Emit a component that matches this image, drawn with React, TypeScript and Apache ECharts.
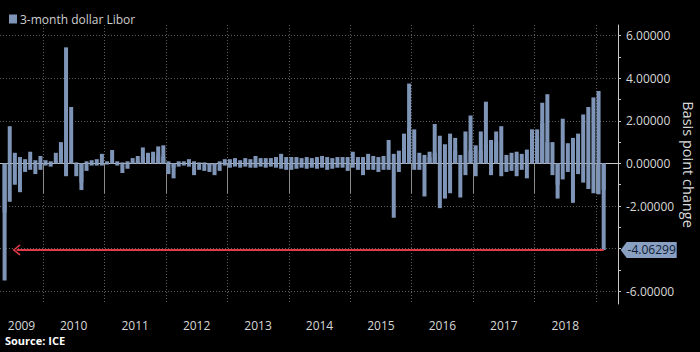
import React, { useEffect, useRef } from "react";
import * as echarts from "echarts";

const seriesName = "3-month dollar Libor";
const axisName = "Basis point change";
const sourceText = "Source: ICE";

const yearBoundaries = [2010, 2011, 2012, 2013, 2014, 2015, 2016, 2017, 2018, 2019];
const yearLabelPositions = [2009.65, 2010.5, 2011.5, 2012.5, 2013.5, 2014.5, 2015.5, 2016.5, 2017.5, 2018.5];
const yTickValues = [-6, -5, -4, -3, -2, -1, 0, 1, 2, 3, 4, 5, 6];
const yLabelValues = [-6, -4, -2, 0, 2, 4, 6];

// Daily change extremes, two per month (bp)
const y2009 = [-2.3, -5.5, 1.75, -1.8, 0.5, -1.0, 0.3, -1.35, 0.2, -0.4, 0.55, -0.3, 0.15, -0.5, 0.35, -0.3]; // May-Dec
const y2010 = [0.15, -0.1, 0.1, -0.15, 0.1, 0.5, 0.7, 1.0, 5.45, -0.6, 2.65, 0.1, 0.05, -0.6, -0.9, -1.25, 0.1, -0.35, 0.15, -0.1, 0.2, -0.1, 0.45, -0.1];
const y2011 = [0.1, -0.05, 0.63, 0.05, 0.1, -0.1, 0.05, -0.45, 0.1, -0.25, 0.25, 0.05, 0.35, 0.1, 0.75, 0.3, 0.5, 0.3, 0.55, 0.3, 0.8, 0.4, 0.85, 0.3];
const y2012 = [0.1, -0.5, -0.2, -0.7, 0.1, -0.15, 0.1, -0.1, 0.2, -0.15, 0.1, -0.55, 0.05, -0.3, 0.05, -0.35, -0.1, -0.4, -0.1, -0.55, 0.1, -0.35, 0.2, -0.1];
const y2013 = [0.2, -0.2, 0.25, -0.15, 0.15, -0.2, 0.25, -0.15, 0.2, -0.2, 0.35, -0.2, 0.25, -0.15, 0.25, -0.2, 0.25, -0.15, 0.3, -0.2, 0.45, -0.25, 0.3, -0.3];
const y2014 = [0.3, -0.3, 0.3, -0.25, 0.25, -0.2, 0.3, -0.25, 0.25, -0.2, 0.3, -0.25, 0.35, -0.2, 0.3, -0.3, 0.25, -0.25, 0.3, -0.2, 0.3, -0.2, 0.3, -0.35];
const y2015 = [0.55, -0.2, 0.3, -0.3, 0.3, -0.55, 0.45, -0.3, 0.35, -0.3, 0.3, -0.4, 0.35, -0.3, 1.1, -0.3, 0.45, -2.55, 0.6, -0.4, 1.0, 1.4, 1.65, 3.75];
const y2016 = [1.6, -0.3, 0.5, -0.3, 0.4, -1.55, 0.55, 0.3, 0.5, 1.85, 1.3, -2.1, -1.65, 0.9, 1.4, -1.4, 1.2, 0.6, -1.6, 0.4, -0.55, 1.5, 0.6, 2.25];
const y2017 = [0.85, -0.6, 0.6, 1.5, 2.9, 0.9, 1.1, -0.55, 1.0, 1.5, -0.6, 1.75, 0.4, -0.4, 0.5, -0.35, -0.6, 0.55, 0.45, -0.3, -0.7, 0.65, 1.4, 1.6];
const y2018 = [1.6, 1.2, 1.9, 2.85, 3.25, 1.0, -0.55, 1.0, -1.65, -1.0, 2.1, -0.75, 0.95, -0.4, -1.85, 1.2, -0.5, 1.4, 2.3, -0.9, 2.65, -1.2, 3.1, -1.4];
const y2019 = [3.4, -1.45, -1.25, -4.06299]; // Jan-Feb

const yearly: [number, number, number[]][] = [
  [2009, 8, y2009],
  [2010, 0, y2010],
  [2011, 0, y2011],
  [2012, 0, y2012],
  [2013, 0, y2013],
  [2014, 0, y2014],
  [2015, 0, y2015],
  [2016, 0, y2016],
  [2017, 0, y2017],
  [2018, 0, y2018],
  [2019, 0, y2019],
];

const xMin = 2009.3;
const xMax = 2019.358;
const arrowStart = 2009.57;

export default function App() {
  const ref = useRef<HTMLDivElement>(null);
  useEffect(() => {
    if (!ref.current) return;
    const chart = echarts.init(ref.current, undefined, { renderer: "svg" });
    const first: [number, number][] = [];
    const second: [number, number][] = [];
    yearly.forEach(([yr, off, arr]) => {
      arr.forEach((v, i) => {
        const m = Math.floor(i / 2);
        const x = yr + (off + 2 * m + 1) / 24;
        (i % 2 === 0 ? first : second).push([x, v]);
      });
    });
    const last = second[second.length - 1];
    const lastV = last[1];
    const font = "Open Sans";
    const barColor = "#7f95b8";
    chart.setOption({
      animation: false,
      backgroundColor: "#000",
      textStyle: { fontFamily: font },
      legend: {
        show: true,
        left: 4,
        top: 8,
        icon: "rect",
        itemWidth: 8,
        itemHeight: 9,
        data: [seriesName],
        textStyle: { color: "#cfcfcf", fontSize: 12, fontFamily: font, padding: [0, 0, 0, -2] },
      },
      grid: { left: 0, right: 82, top: 25, bottom: 48, outerBoundsMode: "none" },
      xAxis: {
        type: "value",
        min: xMin,
        max: xMax,
        axisLine: { show: true, lineStyle: { color: "#c8c8c8", width: 1 } },
        axisTick: { show: true, customValues: yearBoundaries, length: 30, lineStyle: { color: "#8a8a8a" } },
        axisLabel: {
          customValues: yearLabelPositions,
          formatter: (v: number) => String(Math.floor(v)),
          color: "#d8d8d8",
          fontSize: 12,
          margin: 15,
          fontFamily: font,
        },
        splitLine: { show: true, lineStyle: { color: "#5e5e5e", type: [1, 2] } },
      },
      yAxis: [
        {
          type: "value",
          position: "right",
          min: -6.6,
          max: 6.5,
          axisLine: { show: true, lineStyle: { color: "#c8c8c8" } },
          axisTick: { show: true, customValues: yTickValues, length: 3, lineStyle: { color: "#c8c8c8" } },
          axisLabel: {
            customValues: yLabelValues,
            formatter: (v: number) => v.toFixed(5),
            color: "#d8d8d8",
            fontSize: 12,
            margin: 8,
            fontFamily: font,
          },
          splitLine: { show: false },
          name: axisName,
          nameLocation: "middle",
          nameRotate: -90,
          nameGap: 63,
          nameMoveOverlap: false,
          nameTextStyle: { color: "#d8d8d8", fontSize: 14.5, fontFamily: font },
        },
        {
          type: "value",
          position: "right",
          min: -6.6,
          max: 6.5,
          axisLine: { show: false },
          axisTick: { show: false, customValues: yLabelValues },
          axisLabel: { show: false },
          splitLine: { show: true, lineStyle: { color: "#5e5e5e", type: [1, 2] } },
        },
      ],
      series: [
        {
          name: seriesName,
          type: "bar",
          data: first,
          barWidth: 4,
          barGap: "-100%",
          itemStyle: { color: barColor },
          silent: true,
        },
        {
          name: seriesName,
          type: "bar",
          data: second,
          barWidth: 4,
          barGap: "-100%",
          itemStyle: { color: barColor },
          silent: true,
          markLine: {
            silent: true,
            symbol: ["path://M5,0 L10,6.5 L9,7.6 L5,2.2 L1,7.6 L0,6.5 Z", "none"],
            symbolSize: [11, 8],
            lineStyle: { color: "#e23a48", width: 2, type: "solid" },
            label: { show: false },
            data: [[{ coord: [arrowStart, lastV] }, { coord: [last[0], lastV] }]],
          },
          markPoint: {
            silent: true,
            data: [
              {
                coord: [xMax - 0.005, lastV],
                symbol: "path://M0,8 L6,0 L56,0 L56,16 L6,16 Z",
                symbolSize: [56, 16],
                symbolOffset: [31, 0],
                itemStyle: { color: "#8aa0c2" },
                label: {
                  show: true,
                  position: "inside",
                  formatter: lastV.toFixed(5),
                  color: "#0d1b33",
                  fontSize: 12,
                  fontFamily: font,
                  offset: [3, 0],
                },
              },
            ],
          },
        },
      ],
      graphic: [
        {
          type: "text",
          left: 5,
          top: 335,
          style: { text: sourceText, fill: "#ffffff", font: `bold 11px "${font}"` },
        },
      ],
    });
    return () => chart.dispose();
  }, []);
  return <div ref={ref} style={{ width: 700, height: 352, position: "absolute", left: 0, top: 0 }} />;
}
